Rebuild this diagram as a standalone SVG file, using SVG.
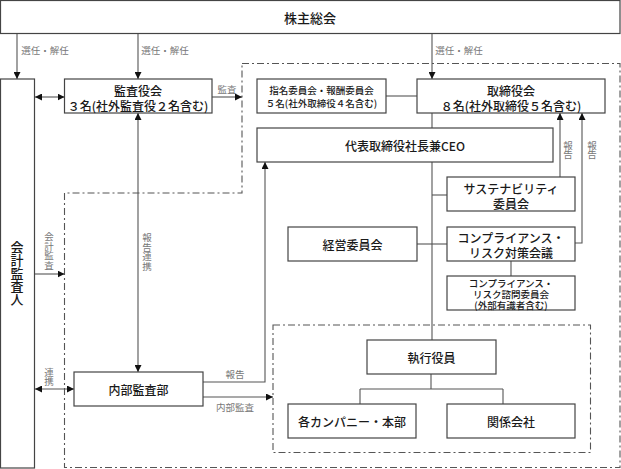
<svg xmlns="http://www.w3.org/2000/svg" width="621" height="469" viewBox="0 0 621 469">
<style>
.box{fill:#fff;stroke:#444;stroke-width:1.2}
.t{font-family:"Noto Sans CJK JP","Noto Sans",sans-serif;font-size:12px;fill:#1a1a1a;text-anchor:middle;dominant-baseline:central;font-weight:500}
.s{font-size:9.5px}
.lbl{font-family:"Noto Sans CJK JP","Noto Sans",sans-serif;font-size:9.5px;fill:#777;text-anchor:middle;dominant-baseline:central}
.v{writing-mode:vertical-rl;text-orientation:upright}
.c{fill:none;stroke:#555;stroke-width:1.1}
.dash{fill:none;stroke:#555;stroke-width:1.1;stroke-dasharray:7 3 2 3}
</style>
<defs>
<marker id="ah" viewBox="0 0 8 8" refX="8" refY="4" markerWidth="7" markerHeight="7" orient="auto-start-reverse" markerUnits="userSpaceOnUse"><path d="M0,0 L8,4 L0,8 z" fill="#111"/></marker>
</defs>
<rect width="621" height="469" fill="#fff"/>

<g id="regions">
<path class="dash" d="M242,63.5 H620 V467.5 H64.5 V193 H242 Z"/>
<rect class="dash" x="273" y="325" width="317.5" height="127.5"/>
</g>

<g id="connectors">
<line class="c" x1="17" y1="33.5" x2="17" y2="79" marker-end="url(#ah)"/>
<line class="c" x1="138" y1="33.5" x2="138" y2="79" marker-end="url(#ah)"/>
<line class="c" x1="432" y1="33.5" x2="432" y2="79" marker-end="url(#ah)"/>
<line class="c" x1="35" y1="97" x2="64.5" y2="97" marker-start="url(#ah)" marker-end="url(#ah)"/>
<line class="c" x1="212" y1="97" x2="242" y2="97" marker-end="url(#ah)"/>
<line class="c" x1="386" y1="96" x2="417" y2="96"/>
<line class="c" x1="432" y1="113" x2="432" y2="128"/>
<line class="c" x1="432" y1="162" x2="432" y2="340"/>
<line class="c" x1="432" y1="195" x2="447" y2="195"/>
<line class="c" x1="417" y1="244" x2="447" y2="244"/>
<line class="c" x1="511" y1="261" x2="511" y2="276"/>
<line class="c" x1="560" y1="177" x2="560" y2="113" marker-end="url(#ah)"/>
<path class="c" d="M575,243 H582 V113" marker-end="url(#ah)"/>
<line class="c" x1="138" y1="113" x2="138" y2="372" marker-start="url(#ah)" marker-end="url(#ah)"/>
<line class="c" x1="35" y1="274" x2="64.5" y2="274" marker-end="url(#ah)"/>
<line class="c" x1="35" y1="389" x2="74" y2="389" marker-start="url(#ah)" marker-end="url(#ah)"/>
<path class="c" d="M203,382 H265 V162" marker-end="url(#ah)"/>
<line class="c" x1="203" y1="397" x2="273" y2="397" marker-end="url(#ah)"/>
<path class="c" d="M431,374 V389 M360,389 H503 M360,389 V404 M503,389 V404"/>
<text class="lbl" x="45" y="50">選任・解任</text>
<text class="lbl" x="165" y="50">選任・解任</text>
<text class="lbl" x="459" y="50">選任・解任</text>
<text class="lbl" x="227" y="89">監査</text>
<text class="lbl v" x="568" y="150">報告</text>
<text class="lbl v" x="592" y="150">報告</text>
<text class="lbl v" x="147" y="252">報告連携</text>
<text class="lbl v" x="49" y="251">会計監査</text>
<text class="lbl v" x="49" y="377">連携</text>
<text class="lbl" x="235" y="374">報告</text>
<text class="lbl" x="235" y="407">内部監査</text>
</g>

<g id="n-shareholders">
<rect class="box" x="0.5" y="0.5" width="619.5" height="33"/>
<text class="t" x="310" y="17" style="font-size:13px">株主総会</text>
</g>
<g id="n-auditor">
<rect class="box" x="0.5" y="79" width="34" height="389"/>
<text class="t v" x="17" y="273" style="font-size:13px">会計監査人</text>
</g>
<g id="n-kansayaku">
<rect class="box" x="64.5" y="79" width="147.5" height="34"/>
<text class="t" x="138" y="90">監査役会</text>
<text class="t" x="138" y="105">３名(社外監査役２名含む)</text>
</g>
<g id="n-committee">
<rect class="box" x="257" y="79" width="129" height="34"/>
<text class="t s" x="321.5" y="89.5">指名委員会・報酬委員会</text>
<text class="t s" x="321.5" y="103">５名(社外取締役４名含む)</text>
</g>
<g id="n-board">
<rect class="box" x="417" y="79" width="188" height="34"/>
<text class="t" x="511" y="90">取締役会</text>
<text class="t" x="511" y="105">８名(社外取締役５名含む)</text>
</g>
<g id="n-ceo">
<rect class="box" x="257" y="128" width="296" height="34"/>
<text class="t" x="405" y="145">代表取締役社長兼CEO</text>
</g>
<g id="n-sustainability">
<rect class="box" x="447" y="177" width="128" height="34"/>
<text class="t" x="511" y="188">サステナビリティ</text>
<text class="t" x="511" y="203">委員会</text>
</g>
<g id="n-management">
<rect class="box" x="288" y="227" width="129" height="34"/>
<text class="t" x="352.5" y="244">経営委員会</text>
</g>
<g id="n-compliance">
<rect class="box" x="447" y="227" width="128" height="34"/>
<text class="t" x="511" y="237">コンプライアンス・</text>
<text class="t" x="511" y="252">リスク対策会議</text>
</g>
<g id="n-advisory">
<rect class="box" x="447" y="276" width="128" height="34"/>
<text class="t s" x="511" y="282.5">コンプライアンス・</text>
<text class="t s" x="511" y="293.5">リスク諮問委員会</text>
<text class="t s" x="511" y="304.5">(外部有識者含む)</text>
</g>
<g id="n-internal-audit">
<rect class="box" x="74" y="372" width="129" height="34"/>
<text class="t" x="138.5" y="389">内部監査部</text>
</g>
<g id="n-officers">
<rect class="box" x="367" y="340" width="129" height="34"/>
<text class="t" x="431.5" y="357">執行役員</text>
</g>
<g id="n-companies">
<rect class="box" x="288" y="404" width="128" height="34"/>
<text class="t" x="352" y="421">各カンパニー・本部</text>
</g>
<g id="n-affiliates">
<rect class="box" x="447" y="404" width="128" height="34"/>
<text class="t" x="511" y="421">関係会社</text>
</g>
</svg>
